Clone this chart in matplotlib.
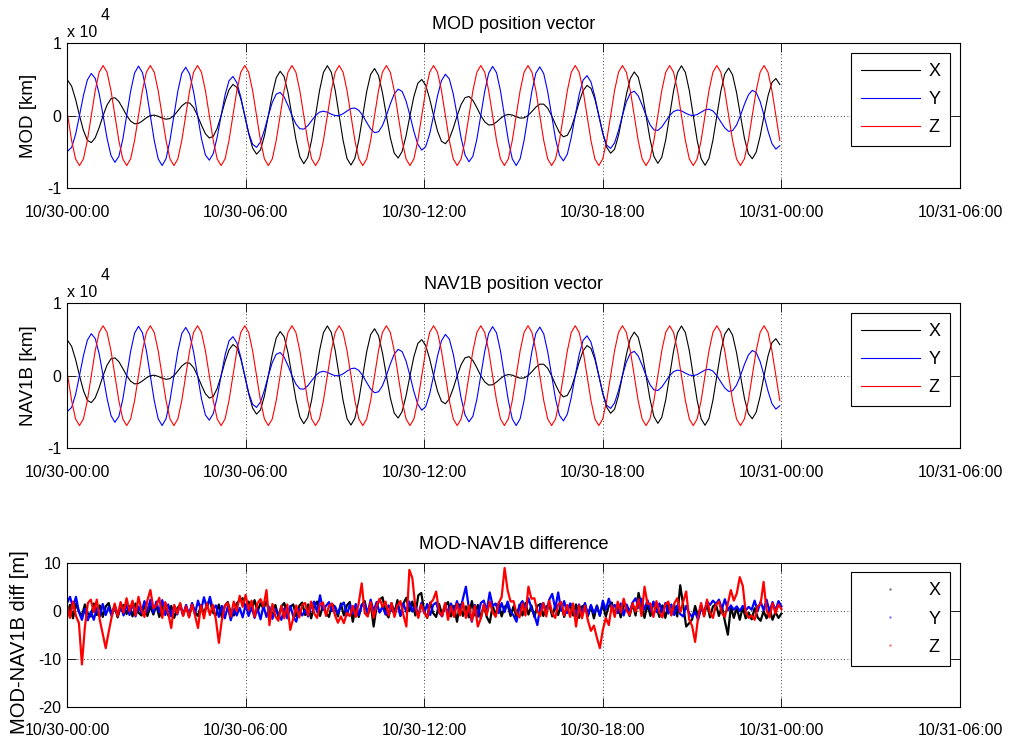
import numpy as np
import matplotlib
matplotlib.use("Agg")
import matplotlib.pyplot as plt
from matplotlib.lines import Line2D

plt.rcParams["font.family"] = ["Liberation Sans", "DejaVu Sans"]
plt.rcParams["axes.unicode_minus"] = False

# --- time axis ---------------------------------------------------------------
TICK_HOURS = [0, 6, 12, 18, 24, 30]
TICK_LABELS = ["10/30-00:00", "10/30-06:00", "10/30-12:00",
               "10/30-18:00", "10/31-00:00", "10/31-06:00"]

# position samples: first sample time and step [h]
POS_T0 = 0.0223
POS_DT = 0.13217

# MOD position vector [km]
MOD_X = [
    4850, 4050, 2250, 0, -2060, -3410, -3730, -3060, -1660, 0, 1450, 2320,
    2460, 1940, 1000, 0, -770, -1140, -1080, -730, -300, 0, 60, -100,
    -350, -510, -410, 0, 650, 1330, 1760, 1730, 1110, 0, -1330, -2500,
    -3100, -2870, -1760, 0, 1960, 3560, 4300, 3890, 2330, 0, -2500, -4480,
    -5320, -4740, -2810, 0, 2940, 5200, 6110, 5390, 3160, 0, -3250, -5690,
    -6640, -5800, -3380, 0, 3420, 5940, 6880, 5970, 3450, 0, -3440, -5940,
    -6830, -5880, -3370, 0, 3320, 5680, 6490, 5540, 3150, 0, -3050, -5180,
    -5860, -4960, -2800, 0, 2650, 4460, 4980, 4170, 2320, 0, -2140, -3540,
    -3890, -3200, -1740, 0, 1530, 2470, 2630, 2090, 1090, 0, -860, -1300,
    -1260, -890, -400, 0, 160, 70, -160, -350, -320, 0, 560, 1170,
    1580, 1570, 1020, 0, -1250, -2350, -2930, -2720, -1680, 0, 1880, 3430,
    4160, 3760, 2260, 0, -2440, -4370, -5200, -4640, -2750, 0, 2890, 5110,
    6020, 5310, 3120, 0, -3220, -5640, -6590, -5760, -3360, 0, 3400, 5930,
    6870, 5960, 3450, 0, -3450, -5960, -6860, -5910, -3390, 0, 3340, 5730,
    6550, 5600, 3190, 0, -3090, -5260, -5960, -5050, -2850, 0, 2710, 4560,
    5110, 4280,
]
MOD_Y = [
    -4910, -4390, -2620, 0, 2760, 4910, 5800, 5130, 3020, 0, -3130, -5510,
    -6450, -5650, -3300, 0, 3360, 5870, 6820, 5930, 3440, 0, -3450, -5970,
    -6890, -5950, -3420, 0, 3390, 5830, 6670, 5720, 3270, 0, -3180, -5430,
    -6160, -5240, -2970, 0, 2840, 4800, 5390, 4540, 2540, 0, -2370, -3960,
    -4390, -3640, -2010, 0, 1810, 2950, 3200, 2580, 1380, 0, -1160, -1820,
    -1870, -1420, -700, 0, 470, 600, 460, 190, -10, 0, 250, 630,
    970, 1040, 720, 0, -950, -1850, -2360, -2230, -1400, 0, 1610, 2980,
    3640, 3330, 2020, 0, -2210, -3980, -4770, -4280, -2550, 0, 2710, 4810,
    5700, 5050, 2980, 0, -3090, -5440, -6380, -5600, -3270, 0, 3340, 5830,
    6780, 5910, 3430, 0, -3450, -5980, -6900, -5960, -3440, 0, 3400, 5860,
    6720, 5770, 3300, 0, -3220, -5490, -6250, -5320, -3010, 0, 2890, 4890,
    5510, 4640, 2600, 0, -2440, -4080, -4530, -3770, -2080, 0, 1890, 3090,
    3360, 2730, 1470, 0, -1250, -1970, -2050, -1580, -790, 0, 560, 770,
    650, 350, 90, 0, 150, 470, 780, 880, 630, 0, -860, -1690,
    -2180, -2080, -1310, 0, 1530, 2830, 3480, 3190, 1940, 0, -2130, -3860,
    -4630, -4160,
]
MOD_Z = [
    0, -3450, -5980, -6900, -5980, -3450, 0, 3450, 5980, 6900, 5980, 3450,
    0, -3450, -5980, -6900, -5980, -3450, 0, 3450, 5980, 6900, 5980, 3450,
    0, -3450, -5980, -6900, -5980, -3450, 0, 3450, 5980, 6900, 5980, 3450,
    0, -3450, -5980, -6900, -5980, -3450, 0, 3450, 5980, 6900, 5980, 3450,
    0, -3450, -5980, -6900, -5980, -3450, 0, 3450, 5980, 6900, 5980, 3450,
    0, -3450, -5980, -6900, -5980, -3450, 0, 3450, 5980, 6900, 5980, 3450,
    0, -3450, -5980, -6900, -5980, -3450, 0, 3450, 5980, 6900, 5980, 3450,
    0, -3450, -5980, -6900, -5980, -3450, 0, 3450, 5980, 6900, 5980, 3450,
    0, -3450, -5980, -6900, -5980, -3450, 0, 3450, 5980, 6900, 5980, 3450,
    0, -3450, -5980, -6900, -5980, -3450, 0, 3450, 5980, 6900, 5980, 3450,
    0, -3450, -5980, -6900, -5980, -3450, 0, 3450, 5980, 6900, 5980, 3450,
    0, -3450, -5980, -6900, -5980, -3450, 0, 3450, 5980, 6900, 5980, 3450,
    0, -3450, -5980, -6900, -5980, -3450, 0, 3450, 5980, 6900, 5980, 3450,
    0, -3450, -5980, -6900, -5980, -3450, 0, 3450, 5980, 6900, 5980, 3450,
    0, -3450, -5980, -6900, -5980, -3450, 0, 3450, 5980, 6900, 5980, 3450,
    0, -3450,
]

# NAV1B position vector [km] -- differs from MOD only by metres, same at this scale
NAV_X = MOD_X
NAV_Y = MOD_Y
NAV_Z = MOD_Z

# MOD-NAV1B difference [m], one value every 0.1 h (one row per hour)
DIFF_DT = 0.1
DIFF_X = [
    -1.3, 1.2, -1.6, 1.4, -0.2, -1.1, 1.3, -0.6, -1.2, 1.5,
    -0.9, 1.1, -1.3, 0.9, 1.6, -0.8, 1.0, -1.4, 0.7, 1.2,
    -0.7, 1.0, -1.2, 1.5, -0.4, -1.0, 1.3, -1.1, 0.9, -0.8,
    1.1, -1.3, 0.7, 1.4, -1.0, 1.0, -1.5, 0.5, 1.2, -0.9,
    0.9, -1.2, 1.5, -0.3, -1.1, 1.2, -0.7, 1.4, 2.1, -0.4,
    -0.9, 1.3, -1.4, 1.0, 1.8, -0.5, -1.0, 1.5, 2.2, 2.6,
    0.5, 1.9, 0.3, 2.2, -0.2, 1.6, 0.4, 2.0, -0.6, -1.0,
    1.2, -1.3, 0.9, 1.6, -1.1, 0.8, 1.3, -1.2, 1.0, 1.7,
    -0.9, 1.3, -1.6, 0.9, 1.9, -1.1, 1.2, -0.5, -1.3, 1.4,
    0.8, -1.2, 1.5, -1.0, 1.1, 1.8, -2.3, 1.0, -1.3, 1.2,
    2.0, -1.1, 1.5, -3.3, 0.9, 2.3, 2.8, -0.3, -1.4, 1.6,
    -0.4, 2.2, -1.1, 1.5, 2.7, -0.1, 1.9, -1.0, 3.2, 3.7,
    -0.2, -1.5, 1.7, -0.5, -1.3, 1.4, -0.9, 1.1, 1.8, -1.2,
    1.0, -2.3, 1.3, -1.1, 0.9, -1.4, 2.0, -1.0, 1.2, -1.6,
    1.1, -1.3, -2.5, 1.0, -0.9, 1.5, -1.2, 0.8, 1.3, -1.1,
    0.9, -1.4, 1.2, -1.0, 1.6, -0.8, 1.1, -1.3, 1.0, 1.4,
    -1.1, 0.9, 1.3, -1.2, 1.0, -0.9, 1.5, -1.3, 0.8, 1.1,
    -1.0, 1.3, -1.5, 0.9, 1.2, -1.1, 1.0, -1.6, 1.1, -0.9,
    1.3, -1.2, 1.0, 1.7, -0.9, 1.1, -1.4, 1.2, 0.8, -1.1,
    1.5, -1.0, 3.7, 0.9, -1.5, 1.3, -1.1, 1.6, 0.8, -1.3,
    1.1, -1.5, 1.4, -0.9, 1.2, -1.2, 5.3, 1.1, -3.3, -2.6,
    -1.8, 1.0, -1.3, 1.2, -1.0, 1.5, -1.4, 0.9, 1.3, -1.1,
    1.0, -2.2, -5.0, 0.8, -1.5, 0.6, -1.9, 0.7, -1.6, -0.4,
    -1.8, 0.5, -1.4, -2.1, -0.1, -1.6, 0.6, -1.9, -0.3, -1.5,
    -0.6,
]
DIFF_Y = [
    1.6, 2.9, 0.6, 2.9, -0.3, -1.9, 0.4, -2.0, -0.2, -1.9,
    0.6, -1.2, 1.4, -0.9, 0.8, -1.1, 1.2, -0.9, 1.1, -1.0,
    1.3, -0.9, 1.6, -1.2, 0.9, -0.5, 2.0, -0.2, 2.3, -0.4,
    1.9, -0.3, 2.2, -0.9, 1.3, -1.2, 1.0, -0.8, 1.4, -0.9,
    1.2, -1.0, 1.6, -0.6, 2.1, 0.0, 2.8, 0.5, 2.9, 0.3,
    1.1, -1.3, 1.0, -1.6, 0.9, -2.0, 0.3, -1.0, 0.6, -1.4,
    1.3, -1.1, 0.9, -1.5, 0.5, -1.8, 1.0, -1.3, 0.8, -1.7,
    0.4, -0.9, -1.9, 0.5, -1.6, 1.0, -1.2, -2.3, 0.3, -1.0,
    0.1, -1.2, 0.8, 1.9, -0.3, 3.2, 0.1, 1.0, 1.8, -0.1,
    0.9, -0.6, 1.1, 1.7, -1.0, 1.3, -0.6, 1.4, -0.9, 1.2,
    1.5, -0.5, 2.3, -0.1, 1.8, -0.4, 0.9, -0.8, 1.1, 0.2,
    -0.6, 1.3, -1.0, 1.5, -0.3, 1.9, -0.2, 1.1, -1.1, 1.6,
    -0.5, 1.4, -0.9, 1.2, 1.7, -0.4, -1.2, 1.3, -0.6, 1.5,
    -0.3, 2.0, -0.1, 2.5, 5.0, 0.5, -2.3, 1.2, -1.3, 1.6,
    2.1, -0.1, 3.8, 1.0, 1.5, -0.5, 1.6, -0.3, 1.9, -0.2,
    -1.0, -2.3, 1.1, 2.0, 0.1, 2.6, 0.5, -0.9, -3.0, 1.0,
    1.6, -0.3, 2.3, 3.5, 0.4, 3.8, 0.0, 2.0, -0.5, 1.5,
    1.0, -1.2, 1.3, -0.6, 1.6, -0.9, 1.2, -0.5, 0.9, -1.1,
    2.1, 0.2, 2.5, 0.5, 1.2, -0.5, 1.5, -1.0, 1.3, -0.3,
    1.7, 2.6, 0.6, 2.5, 0.2, 2.2, 0.0, 1.9, -0.3, 1.5,
    -0.4, 1.6, -0.6, 1.3, -0.9, 1.1, -0.7, -1.2, 1.0, -0.5,
    -1.3, -0.2, -1.9, 0.5, -0.3, 1.9, 1.2, 2.1, 1.4, 2.3,
    0.4, 2.4, 0.1, 1.1, 0.2, 0.9, -0.1, 1.0, 0.1, 0.8,
    0.2, 2.1, -0.1, 1.9, 0.1, 2.3, -0.2, 1.8, 0.0, 2.0,
    0.9,
]
DIFF_Z = [
    1.3, -1.5, 1.9, -1.1, -2.6, -11.2, -3.4, 1.6, 2.3, -0.3,
    2.3, -1.9, -4.8, -7.8, -4.4, -1.3, 1.5, -1.1, 1.8, -0.4,
    2.6, -0.1, 2.1, -1.0, 2.9, 0.2, -1.3, 2.2, 4.3, 0.5,
    1.1, 2.7, -1.5, 1.8, -0.5, -3.6, 1.2, -0.6, 1.6, -1.1,
    0.9, -1.4, 1.3, -1.0, -3.6, 1.1, -1.6, 1.5, -0.9, 1.2,
    -1.8, -6.7, -2.0, 1.0, 1.6, -1.2, 1.9, -0.1, 3.1, 0.8,
    3.3, 0.1, 2.1, -1.3, 1.6, 2.4, 0.9, 4.3, -3.0, 1.4,
    -1.2, -2.1, 1.0, -1.6, 1.3, -4.0, -1.6, 1.1, -1.4, 1.2,
    1.6, -1.0, 1.9, -0.5, -1.5, 1.3, 1.7, -1.1, 1.0, 1.5,
    -0.9, -2.5, -1.2, -2.6, -0.5, -1.1, 1.0, -1.3, 1.6, 5.7,
    -0.5, -1.2, 1.8, -1.5, 1.1, 2.5, 0.8, 1.9, -1.0, 1.6,
    -1.3, 1.1, 2.0, -0.9, -3.3, 8.5, 6.8, 0.8, -1.5, 1.3,
    -0.4, -1.4, 1.5, 2.3, 4.0, -0.2, -1.1, 1.6, -1.9, 0.9,
    -1.3, 1.4, -1.0, 1.7, -1.5, 1.1, -2.1, 1.0, -3.3, -1.6,
    1.3, -0.9, 1.9, -0.3, -1.3, 1.6, 2.8, 8.9, 4.3, 1.9,
    2.0, -0.5, -1.4, 1.5, -1.0, 5.0, 2.5, 2.6, -0.1, -1.1,
    1.6, -1.2, 2.1, -0.5, -1.5, 1.3, 1.8, -1.0, 1.2, -1.3,
    1.5, -3.3, 1.1, -1.6, 1.0, -2.1, -4.2, -3.1, -5.6, -7.8,
    -4.0, -1.5, -3.0, 1.1, -1.3, 1.9, -0.4, 2.5, 0.0, -0.9,
    1.6, -0.2, 2.4, -1.1, 5.0, 1.4, 1.5, -1.3, 2.0, -0.3,
    -1.4, 1.3, 1.9, -1.0, 1.5, 2.6, -0.3, 1.9, 4.0, -1.8,
    -3.2, -6.5, -1.4, 1.6, -1.2, 2.3, -0.4, -1.5, 1.2, 1.9,
    -0.5, -1.3, 1.5, 4.3, 2.1, 3.6, 7.0, 5.2, -0.3, -1.5,
    -1.0, -1.9, 0.9, 1.4, 6.0, 0.1, -1.4, 1.6, -0.6, 1.3,
    0.3,
]

LABELS = ["X", "Y", "Z"]
COLORS = ["k", "b", "r"]


def style_axes(ax):
    ax.set_xlim(0, 30)
    ax.set_xticks(TICK_HOURS)
    ax.set_xticklabels(TICK_LABELS)
    ax.grid(True, linestyle=(0, (1, 3)), color="k", linewidth=0.6)
    ax.tick_params(direction="in", top=True, right=True, length=6.5,
                   width=0.6, labelsize=11.5)
    ax.tick_params(axis="x", pad=12)
    ax.tick_params(axis="y", pad=4)
    for sp in ax.spines.values():
        sp.set_linewidth(0.8)


def legend_box(ax, handles=None):
    kw = dict(loc="upper right", bbox_to_anchor=(0.989, 0.932),
              borderaxespad=0, fontsize=13, frameon=True, fancybox=False,
              edgecolor="k", framealpha=1, handlelength=3.3,
              handletextpad=0.45, borderpad=0.55, labelspacing=0.62)
    if handles is None:
        leg = ax.legend(**kw)
    else:
        leg = ax.legend(handles=handles, **kw)
    leg.get_frame().set_linewidth(0.8)
    return leg


fig = plt.figure(figsize=(10.11, 7.40), dpi=100)
fig.patch.set_facecolor("white")

ax1 = fig.add_axes([0.0663, 0.7459, 0.8833, 0.1959])
ax2 = fig.add_axes([0.0663, 0.3946, 0.8833, 0.1955])
ax3 = fig.add_axes([0.0663, 0.0450, 0.8833, 0.1946])

t_pos = POS_T0 + POS_DT * np.arange(len(MOD_X))

for ax, series, name, ylab in [
    (ax1, (MOD_X, MOD_Y, MOD_Z), "MOD position vector", "MOD [km]"),
    (ax2, (NAV_X, NAV_Y, NAV_Z), "NAV1B position vector", "NAV1B [km]"),
]:
    for vals, lab, col in zip(series, LABELS, COLORS):
        ax.plot(t_pos, vals, color=col, lw=0.8, label=lab)
    style_axes(ax)
    ax.set_ylim(-10000, 10000)
    ax.set_yticks([-10000, 0, 10000])
    ax.set_yticklabels(["-1", "0", "1"])
    ax.set_title(name, fontsize=13, pad=10)
    ax.set_ylabel(ylab, fontsize=13.5)
    ax.yaxis.set_label_coords(-0.034, 0.5)
    ax.text(0.0, 1.045, "x 10", transform=ax.transAxes, fontsize=11.5,
            ha="left", va="baseline")
    ax.text(0.038, 1.16, "4", transform=ax.transAxes, fontsize=11.5,
            ha="left", va="baseline")
    legend_box(ax)

# difference panel
for vals, lab, col in zip((DIFF_X, DIFF_Y, DIFF_Z), LABELS, COLORS):
    t = DIFF_DT * np.arange(len(vals))
    ax3.plot(t, vals, color=col, lw=1.6)
style_axes(ax3)
ax3.set_ylim(-20, 10)
ax3.set_yticks([-20, -10, 0, 10])
ax3.set_title("MOD-NAV1B difference", fontsize=13, pad=10)
ax3.set_ylabel("MOD-NAV1B diff [m]", fontsize=14.5)
ax3.yaxis.set_label_coords(-0.043, 0.45)
dots = [Line2D([0], [0], ls="none", marker=".", ms=2, color=c, alpha=0.35,
               label=l) for l, c in zip(LABELS, COLORS)]
legend_box(ax3, handles=dots)

fig.savefig("out.png", dpi=100)
